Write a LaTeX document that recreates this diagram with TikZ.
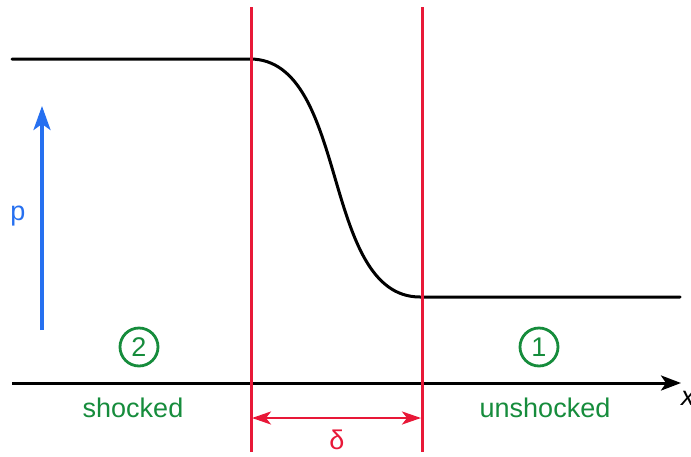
\documentclass[tikz,border=0pt]{standalone}
\usepackage{fontspec}
\setmainfont{Liberation Sans}
\usetikzlibrary{arrows.meta}
\definecolor{sred}{RGB}{232,24,56}
\definecolor{sgreen}{RGB}{22,140,60}
\definecolor{sblue}{RGB}{38,112,240}
\tikzset{
  lbl/.style={font=\fontsize{27}{32}\selectfont},
  region/.style={lbl, text=sgreen},
  numcirc/.style={circle, draw=sgreen, line width=2.8pt, minimum size=38pt, inner sep=0pt, text=sgreen, font=\fontsize{27}{32}\selectfont},
  redline/.style={draw=sred, line width=3pt},
}
\begin{document}
\begin{tikzpicture}[x=1pt,y=-1pt]
\useasboundingbox (0,0) rectangle (691,456);
% coordinates
\coordinate (rt1) at (251,7);
\coordinate (rb1) at (251,452);
\coordinate (rt2) at (422,7);
\coordinate (rb2) at (422,452);
\coordinate (ax0) at (12,383);
\coordinate (ax1) at (681,383);
\coordinate (pb) at (42,330);
\coordinate (pt) at (42,106);
\coordinate (d0) at (252,418);
\coordinate (d1) at (421,418);
% profile
\draw[line width=3pt, line cap=round] (12,59) -- (250,59)
  .. controls (300,59) and (318,120) .. (335,178)
  .. controls (352,236) and (370,297) .. (420,297) -- (680,297);
% axis
\draw[line width=3pt, -{Stealth[length=20pt,width=15pt,inset=5pt]}] (ax0) -- (ax1);
\node[lbl, font=\fontsize{27}{32}\selectfont\itshape, anchor=west, inner sep=0pt] (xl) at (681,398) {x};
% red lines
\draw[redline] (rt1) -- (rb1);
\draw[redline] (rt2) -- (rb2);
% delta arrow
\draw[sred, line width=2.6pt, {Stealth[length=19pt,width=13pt,inset=5pt]}-{Stealth[length=19pt,width=13pt,inset=5pt]}] (d0) -- (d1);
\node[lbl, text=sred] (dl) at (337,440) {δ};
% p arrow
\draw[sblue, line width=3.5pt, -{Stealth[length=24pt,width=17pt,inset=6pt]}] (pb) -- (pt);
\node[lbl, text=sblue] (pl) at (18,216) {p};
% regions
\node[numcirc] (c2) at (139,347) {2};
\node[numcirc] (c1) at (539,347) {1};
\node[region] (sh) at (133,408) {shocked};
\node[region] (us) at (545,408) {unshocked};
\end{tikzpicture}
\end{document}
